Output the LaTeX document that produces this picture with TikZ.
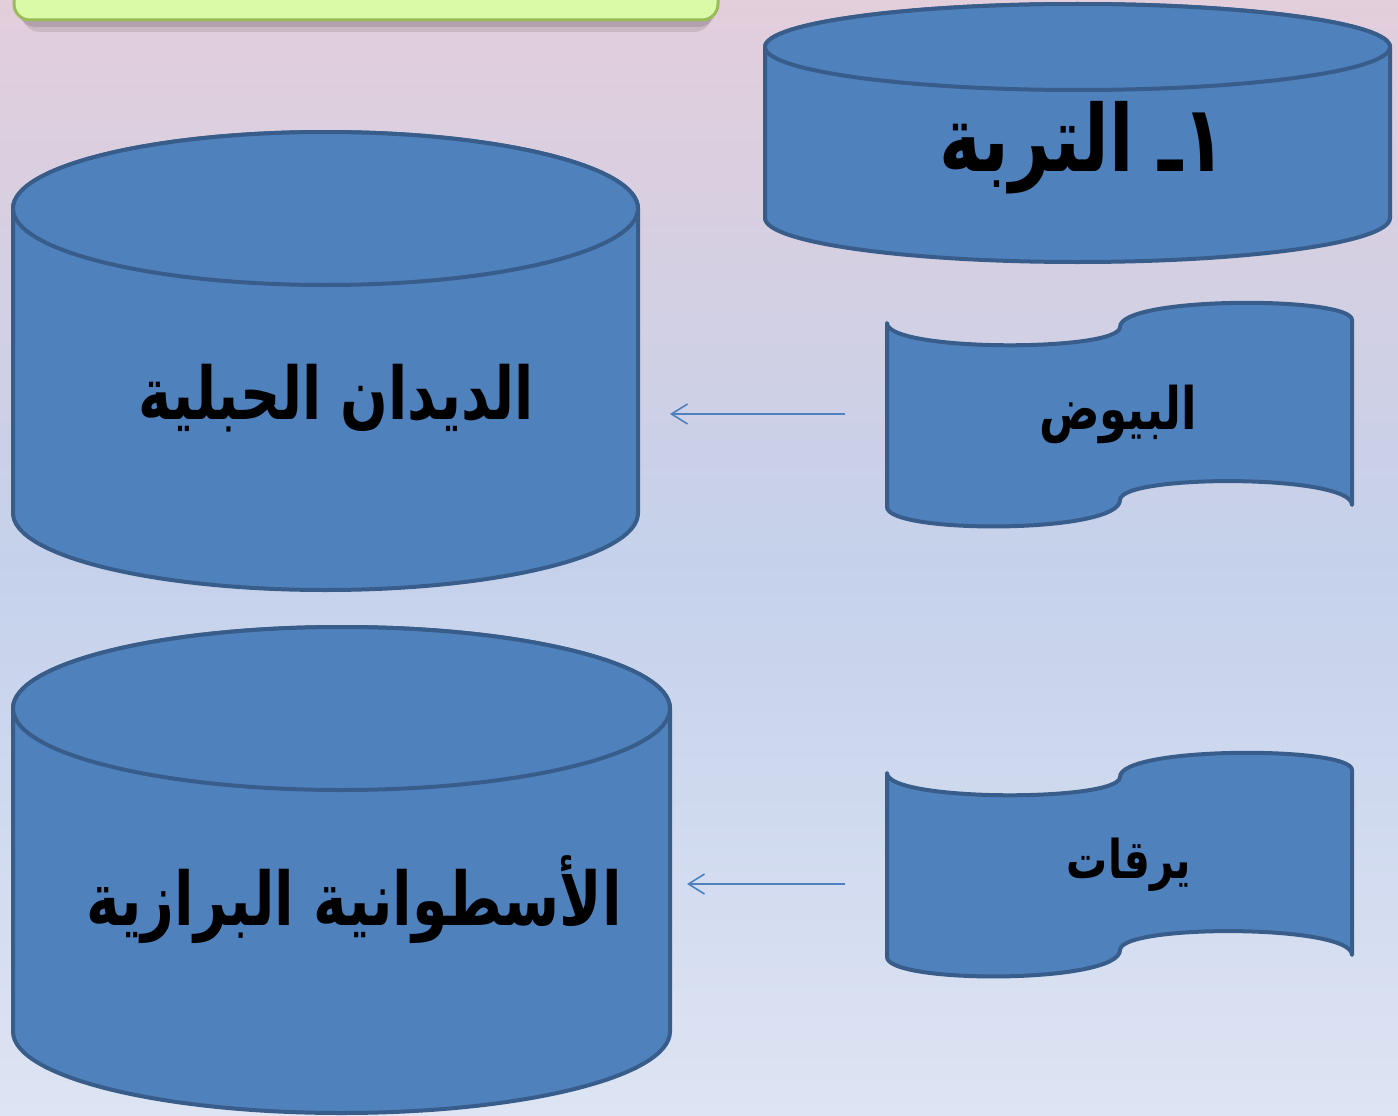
\documentclass[tikz,border=0pt]{standalone}
\usepackage{graphicx}
\usepackage{fontspec}
\newfontfamily\arabicfont[Script=Arabic]{DejaVu Sans}
\TeXXeTstate=1
\usetikzlibrary{arrows.meta}
\definecolor{bgtop}{RGB}{227,206,219}
\definecolor{bgmid}{RGB}{197,209,235}
\definecolor{bgbot}{RGB}{221,228,243}
\definecolor{shapefill}{RGB}{79,129,189}
\definecolor{shapeedge}{RGB}{56,93,138}
\definecolor{greenfill}{RGB}{218,250,168}
\definecolor{greenedge}{RGB}{155,187,89}
\tikzset{
  shp/.style={fill=shapefill, draw=shapeedge, line width=4pt, line join=round},
  lbl/.style={inner sep=0pt, text=black, font=\arabicfont\bfseries},
  conn/.style={draw=shapefill, line width=1.6pt, -{Straight Barb[length=16pt,width=20pt]}}
}
\newcommand{\tallR}[1]{\scalebox{1}[1.3]{\beginR #1\endR}}
\begin{document}
\begin{tikzpicture}[x=1pt,y=-1pt]
\useasboundingbox (0,0) rectangle (1398,1116);
% background
\fill[top color=bgtop, bottom color=bgmid] (0,0) rectangle (1398,561);
\fill[top color=bgmid, bottom color=bgbot] (0,560) rectangle (1398,1116);
% green box (cut off at top)
\begin{scope}
\clip (0,0) rectangle (1398,1116);
\fill[black, opacity=0.10, rounded corners=18pt] (22,-60) rectangle (712,32);
\fill[black, opacity=0.12, rounded corners=18pt] (18,-60) rectangle (716,27);
\filldraw[fill=greenfill, draw=greenedge, line width=3pt, rounded corners=16pt] (14,-60) rectangle (718,20);
\end{scope}
% cylinder 1 (top right)
\path[shp] (765,47) -- (765,218) arc[start angle=180,end angle=360,x radius=312.5pt,y radius=44pt] -- (1390,47) arc[start angle=0,end angle=180,x radius=312.5pt,y radius=43pt] -- cycle;
\draw[shp] (1077.5,47) ellipse[x radius=312.5pt,y radius=43pt];
% cylinder 2 (middle left)
\path[shp] (13,208.5) -- (13,513) arc[start angle=180,end angle=360,x radius=312.5pt,y radius=77pt] -- (638,208.5) arc[start angle=0,end angle=180,x radius=312.5pt,y radius=76.5pt] -- cycle;
\draw[shp] (325.5,208.5) ellipse[x radius=312.5pt,y radius=76.5pt];
% cylinder 3 (bottom left)
\path[shp] (13,708.5) -- (13,1031.5) arc[start angle=180,end angle=360,x radius=328.5pt,y radius=81.5pt] -- (670,708.5) arc[start angle=0,end angle=180,x radius=328.5pt,y radius=81.5pt] -- cycle;
\draw[shp] (341.5,708.5) ellipse[x radius=328.5pt,y radius=81.5pt];
% wave 1
\path[shp] (887,323) .. controls (887,352) and (1120,352) .. (1120,327) .. controls (1120,296) and (1352,296) .. (1352,320) -- (1352,505) .. controls (1352,474) and (1120,474) .. (1120,500) .. controls (1120,534) and (887,534) .. (887,507) -- cycle;
% wave 2
\path[shp] (887,773) .. controls (887,802) and (1120,802) .. (1120,777) .. controls (1120,746) and (1352,746) .. (1352,770) -- (1352,955) .. controls (1352,924) and (1120,924) .. (1120,950) .. controls (1120,984) and (887,984) .. (887,957) -- cycle;
% labels
\node[lbl, font=\arabicfont\bfseries\fontsize{71}{80}\selectfont] (soil) at (1083,148) {\tallR{١ـ التربة}};
\node[lbl, font=\arabicfont\bfseries\fontsize{56}{64}\selectfont] (worms) at (336,398) {\tallR{الديدان الحبلية}};
\node[lbl, font=\arabicfont\bfseries\fontsize{57}{66}\selectfont] (cyl) at (354,900) {\tallR{الأسطوانية البرازية}};
\node[lbl, font=\arabicfont\bfseries\fontsize{45}{52}\selectfont] (eggs) at (1118,414) {\tallR{البيوض}};
\node[lbl, font=\arabicfont\bfseries\fontsize{41}{48}\selectfont] (larvae) at (1129,865) {\tallR{يرقات}};
% connectors
\coordinate (eggsL) at (845,414);
\coordinate (wormsR) at (670,414);
\coordinate (larvaeL) at (845,884);
\coordinate (cylR) at (687,884);
\draw[conn] (eggsL) -- (wormsR);
\draw[conn] (larvaeL) -- (cylR);
\end{tikzpicture}
\end{document}
